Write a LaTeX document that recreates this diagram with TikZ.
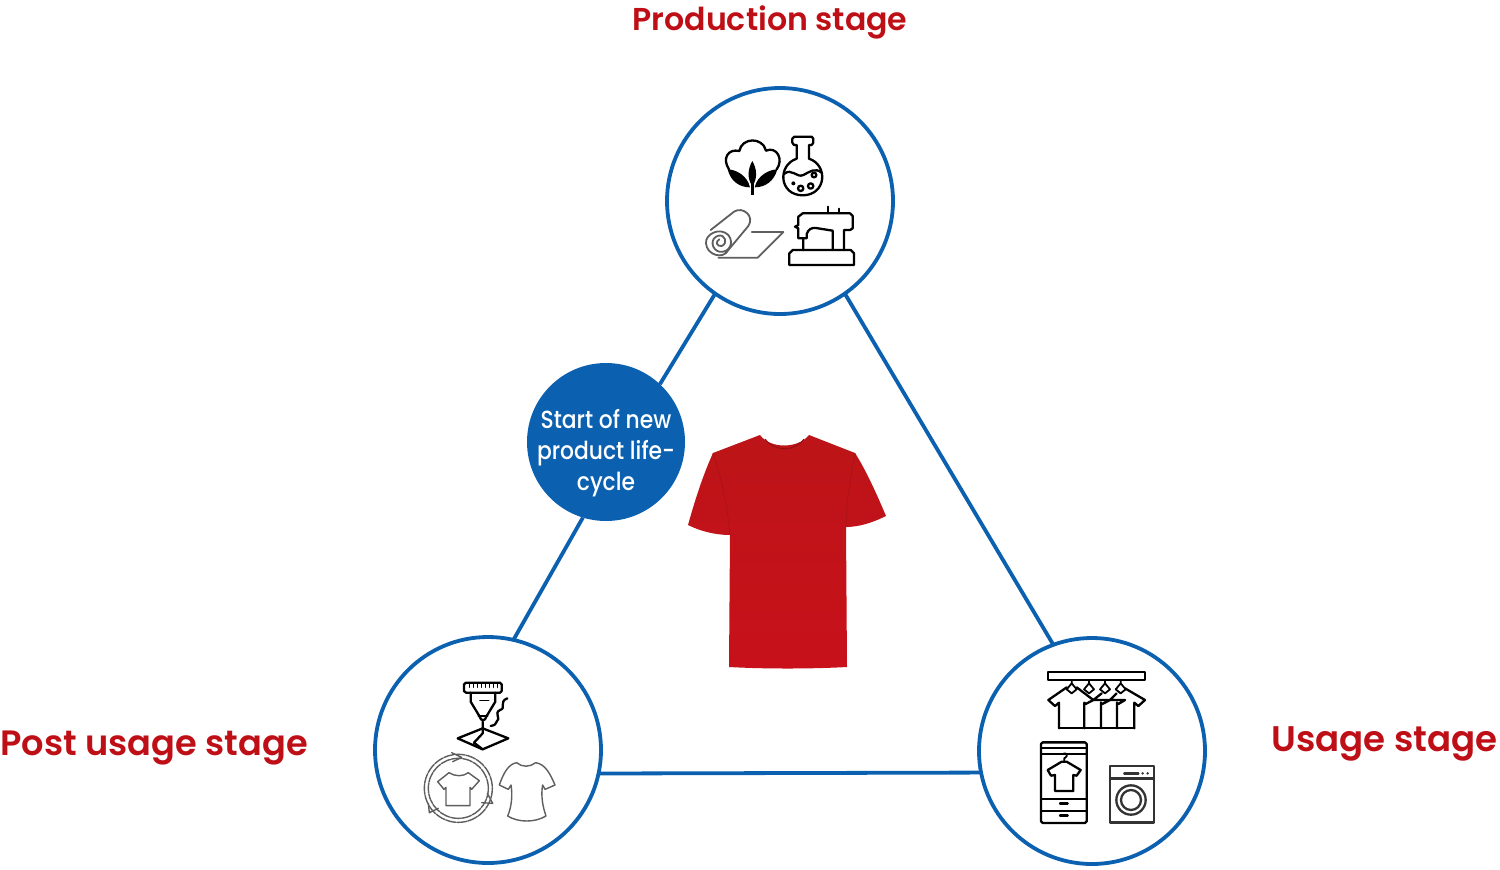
\documentclass[tikz,border=0pt]{standalone}
\usepackage{fontspec}
\setmainfont{Poppins}[BoldFont={Poppins SemiBold}]
\newfontfamily\startfont{Poppins Medium}
\definecolor{ringblue}{HTML}{0B61B0}
\definecolor{stagered}{HTML}{BE0F17}
\definecolor{shirtred}{HTML}{C8111A}
\definecolor{shirtdark}{HTML}{BC1418}
\definecolor{icongray}{HTML}{5E5E5E}
\tikzset{
  ring/.style={circle,draw=ringblue,line width=1.9pt,minimum size=113pt,inner sep=0,outer sep=0,fill=white},
  link/.style={draw=ringblue,line width=1.9pt},
  stagelabel/.style={text=stagered,inner sep=0},
  icon/.style={x=0.16667pt,y=-0.16667pt},
  ink/.style={draw=black,line width=1.15pt,line join=round,line cap=round},
  thin ink/.style={draw=icongray,line width=.9pt,line join=round,line cap=round},
}
\begin{document}
\begin{tikzpicture}[x=0.5pt,y=-0.5pt]
\useasboundingbox (0,0) rectangle (1500,869);
% nodes
\node[ring] (prod) at (780,201) {};
\node[ring] (post) at (488,750) {};
\node[ring] (use) at (1092,751) {};
\node[circle,fill=ringblue,minimum size=79pt,inner sep=0,outer sep=0] (start) at (606,442) {};
\node[text=white,align=center,inner sep=0,xscale=.88,font=\startfont\fontsize{12.4}{15.5}\selectfont] (starttext) at (606,453) {Start of new\\product life-\\cycle};
% connectors
\draw[link] (prod.235) -- (start.47);
\draw[link] (start.253) -- (post.77.5);
\draw[link] (prod.305) -- (use.110.8);
\draw[link] (post.-12) -- (use.191.5);
% labels
\node[stagelabel,font=\fontsize{15.8}{18}\selectfont\bfseries] (l1) at (770,22) {Production stage};
\node[stagelabel,anchor=west,font=\fontsize{17.6}{18}\selectfont\bfseries] (l2) at (0,748) {Post usage stage};
\node[stagelabel,anchor=east,font=\fontsize{17.8}{18}\selectfont\bfseries] (l3) at (1498,744) {Usage stage};
% shirt
\path[top color=shirtdark,bottom color=shirtred]
  (760,435) .. controls (770,449) and (798,449) .. (809,435)
  -- (855,453) .. controls (866,470) and (878,497) .. (886,516)
  .. controls (872,523) and (858,527) .. (846,527)
  -- (847,667) .. controls (810,669) and (765,669) .. (729,667)
  -- (730,535) .. controls (715,535) and (700,531) .. (688,525)
  .. controls (695,500) and (703,475) .. (713,453) -- cycle;
\draw[shirtdark!80!black,line width=.5pt] (765,439) .. controls (775,452) and (795,452) .. (804,439);
\draw[shirtdark!92!black,line width=.4pt] (713,453) .. controls (722,480) and (728,510) .. (730,535);
\draw[shirtdark!92!black,line width=.4pt] (855,453) .. controls (850,480) and (846,505) .. (846,527);
% production icons
\begin{scope}[shift={(660,80)},icon]
 % cotton
 \draw[ink] (207,268) .. controls (185,235) and (205,205) .. (238,213) .. controls (245,172) and (308,170) .. (318,212) .. controls (350,198) and (372,238) .. (350,268);
 \fill (277,243) .. controls (264,265) and (260,295) .. (277,318) .. controls (294,295) and (290,265) .. (277,243) -- cycle;
 \fill (203,268) .. controls (225,268) and (262,285) .. (270,322) .. controls (240,322) and (212,305) .. (203,268) -- cycle;
 \fill (352,268) .. controls (330,268) and (292,285) .. (284,322) .. controls (314,322) and (342,305) .. (352,268) -- cycle;
 \draw[black,line width=1.5pt] (277,300) -- (277,344);
 % flask
 \draw[ink] (410,195) -- (402,195) -- (397,188) -- (397,176) -- (403,170) -- (455,170) -- (460,176) -- (460,188) -- (455,195) -- (447,195) -- (447,236)
   .. controls (505,255) and (500,345) .. (428,346) .. controls (356,345) and (352,255) .. (410,236) -- cycle;
 \draw[ink] (372,282) .. controls (395,262) and (410,295) .. (430,285) .. controls (450,275) and (465,262) .. (485,278);
 \draw[ink] (462,285) circle[radius=7];
 \fill (400,310) circle[radius=6];
 \draw[ink] (422,325) circle[radius=8];
 \draw[ink] (452,318) circle[radius=8];
 % roll
 \draw[thin ink] (152,450) -- (222,395) .. controls (248,378) and (285,408) .. (265,438) -- (205,510)
   .. controls (190,540) and (140,525) .. (138,490) .. controls (135,462) and (180,440) .. (205,465) .. controls (225,490) and (205,520) .. (178,515)
   .. controls (155,510) and (148,475) .. (175,467) .. controls (195,462) and (205,490) .. (185,498) .. controls (170,500) and (165,485) .. (178,478);
 \draw[thin ink] (275,456) -- (370,456) -- (293,533) -- (175,533);
 % sewing machine
 \draw[ink] (388,555) -- (388,520) -- (398,510) -- (572,510) -- (582,520) -- (582,555) -- cycle;
 \draw[ink] (430,510) -- (430,475) -- (415,475) -- (415,445) -- (405,440) -- (415,435) -- (415,410) -- (428,400) -- (570,400) -- (578,408) -- (578,445) -- (570,450) -- (552,450) -- (552,510);
 \draw[ink] (430,475) -- (440,475) -- (440,462) .. controls (445,448) and (455,442) .. (468,444) -- (518,452) -- (518,510);
 \draw[ink] (504,400) -- (504,380) (537,400) -- (537,386);
\end{scope}
% post-usage icons
\begin{scope}[shift={(370,630)},icon]
 \draw[ink] (288,158) -- (390,158) -- (395,163) -- (395,183) -- (390,188) -- (288,188) -- (282,183) -- (282,163) -- cycle;
 \draw[ink,line width=.7pt] (298,160) -- (298,172) (310,160) -- (310,172) (322,160) -- (322,172) (334,160) -- (334,172) (346,160) -- (346,172) (358,160) -- (358,172) (370,160) -- (370,172) (382,160) -- (382,172);
 \draw[ink] (302,188) -- (302,215) -- (328,258) .. controls (333,275) and (345,275) .. (350,258) -- (376,215) -- (376,188);
 \draw[ink,line width=.8pt] (330,212) -- (356,212) (325,258) -- (353,258);
 \draw[ink] (338,275) -- (338,310) -- (312,338);
 \draw[ink] (338,295) -- (263,325) -- (338,358) -- (415,325) -- (338,295);
 \draw[ink] (312,338) -- (338,358);
 \draw[ink] (412,205) .. controls (385,215) and (410,235) .. (390,240) .. controls (370,250) and (395,265) .. (380,275) .. controls (375,285) and (370,288) .. (362,288);
 % circular arrows
 \draw[thin ink,line width=.7pt,dash pattern=on 5pt off .6pt] (265,475) circle[radius=102];
 \draw[thin ink,line width=.7pt,dash pattern=on 5pt off .6pt] (265,475) circle[radius=90];
 \draw[thin ink,line width=.7pt] (245,368) -- (275,382) -- (248,395);
 \draw[thin ink,line width=.7pt] (352,490) -- (368,520) -- (335,518);
 \draw[thin ink,line width=.7pt] (175,520) -- (178,548) -- (205,535);
 % inner tee
 \draw[thin ink,line width=.7pt] (237,428) .. controls (255,440) and (280,440) .. (295,428) -- (328,452) -- (305,478) -- (300,472) -- (300,527) -- (228,527) -- (228,472) -- (222,478) -- (203,455) -- cycle;
 % women's tee
 \draw[thin ink,line width=.7pt] (440,398) .. controls (455,412) and (480,412) .. (497,398) .. controls (525,402) and (540,430) .. (555,465) -- (525,478) -- (518,465) .. controls (512,495) and (518,530) .. (528,558) .. controls (495,578) and (445,578) .. (413,558) .. controls (425,530) and (428,495) .. (423,465) -- (415,478) -- (388,465) .. controls (400,430) and (415,402) .. (440,398) -- cycle;
\end{scope}
% usage icons
\begin{scope}[shift={(975,630)},icon]
 \draw[ink] (220,127) rectangle (510,150);
 \foreach \hx in {290,342,390,437}{
   \draw[ink,line width=.9pt] (\hx,150) -- (\hx,160) -- (\hx+15,178) -- (\hx,190) -- (\hx-15,178) -- (\hx,160);
 }
 \draw[ink] (252,295) -- (478,295);
 \draw[ink] (275,172) -- (220,210) -- (240,228) -- (252,218) -- (252,295);
 \draw[ink] (305,172) -- (355,210) -- (332,222) -- (328,218) -- (328,295);
 \draw[ink] (355,210) -- (380,190) (355,210) -- (405,210) -- (382,222) -- (378,218) -- (378,295);
 \draw[ink] (405,210) -- (425,190) (405,210) -- (450,210) -- (430,222) -- (426,218) -- (426,295);
 \draw[ink] (450,175) -- (510,210) -- (490,228) -- (478,218) -- (478,295);
 % phone
 \draw[ink] (203,337) -- (330,337) -- (335,342) -- (335,574) -- (330,579) -- (203,579) -- (198,574) -- (198,342) -- cycle;
 \draw[ink] (198,353) -- (335,353) (198,372) -- (335,372) (198,507) -- (335,507) (198,543) -- (335,543);
 \draw[ink,line width=1.2pt] (255,521) -- (278,521) (255,557) -- (278,557);
 \draw[ink] (240,483) -- (295,483) (240,483) -- (240,435) -- (228,437) -- (218,420) -- (260,395) -- (275,395) -- (317,420) -- (305,437) -- (295,435) -- (295,483);
 \draw[ink,line width=.9pt] (268,395) -- (268,385) .. controls (282,378) and (275,365) .. (262,372);
 % washing machine
 \draw[ink,draw=black!80,line width=1.3pt] (405,408) rectangle (537,578);
 \draw[ink,draw=black!80] (405,445) -- (537,445);
 \draw[ink,draw=black!80,line width=1.3pt] (448,430) -- (490,430);
 \fill[black!80] (503,430) circle[radius=4] (518,430) circle[radius=4];
 \draw[ink,draw=black!80] (468,510) circle[radius=44];
 \draw[ink,draw=black!80] (468,510) circle[radius=30];
\end{scope}
\end{tikzpicture}
\end{document}
